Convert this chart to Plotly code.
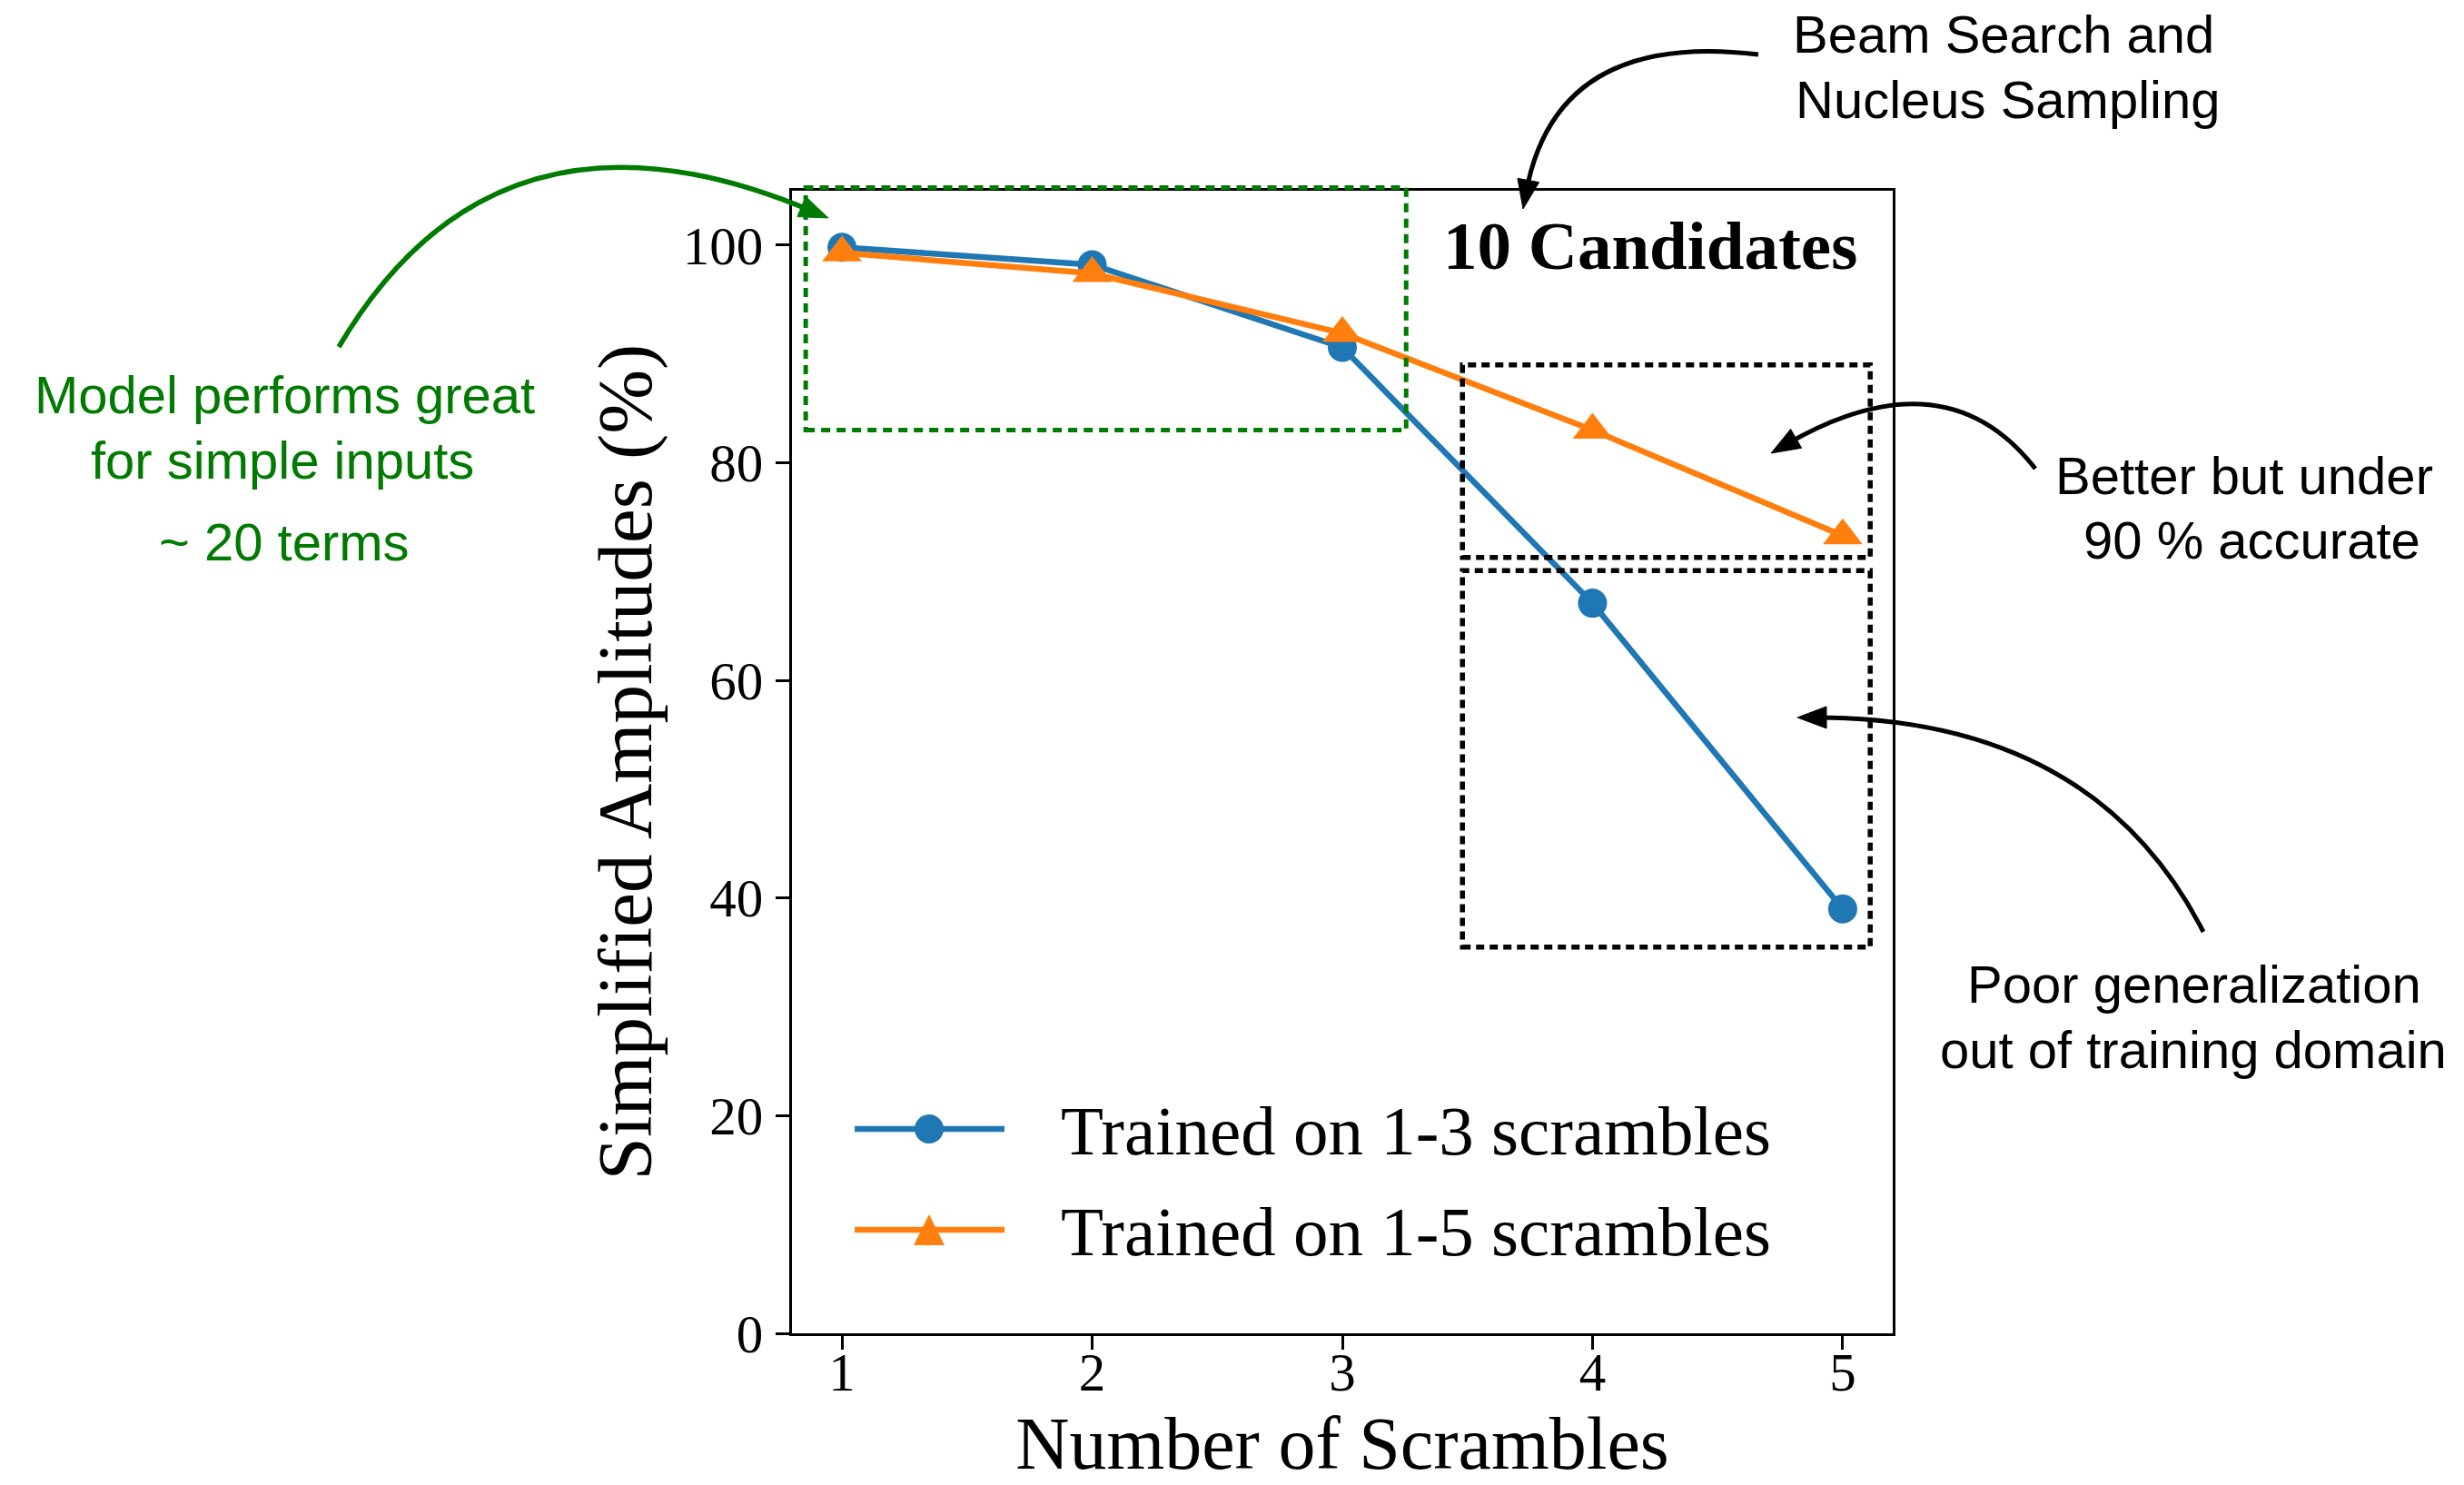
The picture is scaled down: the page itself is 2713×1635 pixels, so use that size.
import math
import plotly.graph_objects as go

# ---------------- data ----------------
scrambles = [1, 2, 3, 4, 5]
trained_1_3 = [99.8, 98.2, 90.6, 67.1, 39.0]
trained_1_5 = [99.3, 97.4, 91.9, 83.0, 73.3]
series_names = ["Trained on 1-3 scrambles", "Trained on 1-5 scrambles"]
x_ticks = [1, 2, 3, 4, 5]
y_ticks = [0, 20, 40, 60, 80, 100]
x_range = [0.8, 5.2]
y_range = [0, 105]

# highlighted regions (data units: x0, y0, x1, y1)
green_box = (0.855, 83.0, 3.255, 105.3)
better_box = (3.48, 71.3, 5.11, 89.0)
poor_box = (3.48, 35.5, 5.11, 70.1)

BLUE = "#1f77b4"
ORANGE = "#ff7f0e"
GREEN = "#007a00"
SERIF = "Liberation Serif"
SANS = "Liberation Sans"

# ---------------- geometry helpers ----------------
W, H = 2713, 1635
ML, MR, MT, MB = 872, 629, 210, 167
PW = W - ML - MR
PH = H - MT - MB


def pp(px, py):
    """figure pixel -> paper fraction"""
    return ((px - ML) / PW, (H - MB - py) / PH)


def dp(x, y):
    """data -> paper fraction"""
    return ((x - x_range[0]) / (x_range[1] - x_range[0]),
            (y - y_range[0]) / (y_range[1] - y_range[0]))


fig = go.Figure()

fig.add_trace(go.Scatter(
    x=scrambles, y=trained_1_3, name=series_names[0], mode="lines+markers",
    line=dict(color=BLUE, width=6.5),
    marker=dict(symbol="circle", size=32, color=BLUE),
    showlegend=False, cliponaxis=False))
fig.add_trace(go.Scatter(
    x=scrambles, y=trained_1_5, name=series_names[1], mode="lines+markers",
    line=dict(color=ORANGE, width=6.5),
    marker=dict(symbol="triangle-up", size=38, color=ORANGE),
    showlegend=False, cliponaxis=False))

shapes = []


def box(b, color, dash, width):
    x0, y0 = dp(b[0], b[1])
    x1, y1 = dp(b[2], b[3])
    shapes.append(dict(type="rect", xref="paper", yref="paper",
                       x0=x0, y0=y0, x1=x1, y1=y1,
                       line=dict(color=color, width=width, dash=dash),
                       fillcolor="rgba(0,0,0,0)", layer="above"))


box(green_box, GREEN, "10px,7px", 5)
box(better_box, "black", "9px,6px", 5.5)
box(poor_box, "black", "9px,6px", 5.5)


def curved_arrow(p0, c, p2, color, width=5, head_len=32, head_w=12):
    dx, dy = p2[0] - c[0], p2[1] - c[1]
    n = math.hypot(dx, dy)
    ux, uy = dx / n, dy / n
    end = (p2[0] - 18 * ux, p2[1] - 18 * uy)
    a, b, e = pp(*p0), pp(*c), pp(*end)
    shapes.append(dict(type="path", xref="paper", yref="paper",
                       path=f"M {a[0]},{a[1]} Q {b[0]},{b[1]} {e[0]},{e[1]}",
                       line=dict(color=color, width=width), layer="above"))
    bx, by = p2[0] - head_len * ux, p2[1] - head_len * uy
    nx, ny = -uy, ux
    t = pp(*p2)
    l = pp(bx + head_w * nx, by + head_w * ny)
    r = pp(bx - head_w * nx, by - head_w * ny)
    shapes.append(dict(type="path", xref="paper", yref="paper",
                       path=f"M {t[0]},{t[1]} L {l[0]},{l[1]} L {r[0]},{r[1]} Z",
                       fillcolor=color, line=dict(color=color, width=1), layer="above"))


curved_arrow((373, 382), (548, 86), (912, 240), GREEN, width=5.5)
curved_arrow((1936, 60), (1713, 33), (1677, 230), "black")
curved_arrow((2241, 516), (2141, 388), (1950, 499), "black")
curved_arrow((2426, 1026), (2305, 789), (1979, 790), "black")

# ---------------- custom legend ----------------
leg_rows = [1243, 1354]
for col, row in zip([BLUE, ORANGE], leg_rows):
    a = pp(941, row)
    b = pp(1106, row)
    shapes.append(dict(type="line", xref="paper", yref="paper",
                       x0=a[0], y0=a[1], x1=b[0], y1=b[1],
                       line=dict(color=col, width=6.5), layer="above"))
cx = 1023
c0 = pp(cx - 16, leg_rows[0] - 16)
c1 = pp(cx + 16, leg_rows[0] + 16)
shapes.append(dict(type="circle", xref="paper", yref="paper",
                   x0=c0[0], y0=c0[1], x1=c1[0], y1=c1[1],
                   fillcolor=BLUE, line=dict(width=0), layer="above"))
t0 = pp(cx, leg_rows[1] - 17)
t1 = pp(cx - 17, leg_rows[1] + 17)
t2 = pp(cx + 17, leg_rows[1] + 17)
shapes.append(dict(type="path", xref="paper", yref="paper",
                   path=f"M {t0[0]},{t0[1]} L {t1[0]},{t1[1]} L {t2[0]},{t2[1]} Z",
                   fillcolor=ORANGE, line=dict(width=0), layer="above"))

annotations = []


def text(s, px, baseline, size, family, color="black", anchor="center", bold=False):
    asc = 0.347 if family == SANS else 0.3375
    x, y = pp(px, baseline - asc * size)
    annotations.append(dict(
        text=f"<b>{s}</b>" if bold else s, xref="paper", yref="paper",
        x=x, y=y, xanchor=anchor, yanchor="middle", showarrow=False,
        font=dict(family=family, size=size, color=color)))


for name, row in zip(series_names, [1270.6, 1381.5]):
    text(name, 1166, row, 77, SERIF, anchor="left")

text("10 Candidates", 1817, 296, 75, SERIF, bold=True)

text("Beam Search and", 2206, 58, 58, SANS)
text("Nucleus Sampling", 2210, 130, 58, SANS)
text("Model performs great", 313, 455, 58, SANS, color=GREEN)
text("for simple inputs", 311, 527, 58, SANS, color=GREEN)
text("~ 20 terms", 313, 617, 58, SANS, color=GREEN)
text("Better but under", 2471, 544, 58, SANS)
text("90 % accurate", 2479, 615, 58, SANS)
text("Poor generalization", 2416, 1104, 58, SANS)
text("out of training domain", 2415, 1175.5, 58, SANS)

axis_common = dict(
    showline=True, linewidth=3, linecolor="black", mirror=True,
    ticks="outside", ticklen=15, tickwidth=3, tickcolor="black",
    showgrid=False, zeroline=False, automargin=False,
    tickfont=dict(family=SERIF, size=59, color="black"),
)

fig.update_layout(
    width=W, height=H, autosize=False,
    margin=dict(l=ML, r=MR, t=MT, b=MB, pad=0, autoexpand=False),
    paper_bgcolor="white", plot_bgcolor="white",
    showlegend=False,
    xaxis=dict(range=x_range, tickvals=x_ticks, ticktext=[str(v) for v in x_ticks],
               title=dict(text="Number of Scrambles",
                          font=dict(family=SERIF, size=82, color="black"), standoff=52),
               ticklabelstandoff=-26,
               **axis_common),
    yaxis=dict(range=y_range, tickvals=y_ticks, ticktext=[str(v) for v in y_ticks],
               title=dict(text="Simplified Amplitudes (%)",
                          font=dict(family=SERIF, size=85, color="black"), standoff=6),
               ticklabelstandoff=2,
               **axis_common),
    shapes=shapes,
    annotations=annotations,
)

fig.write_html(
    "out.html",
    config={"responsive": False, "displayModeBar": False},
    post_script="document.body.style.margin='0px';document.body.style.overflow='hidden';",
)
